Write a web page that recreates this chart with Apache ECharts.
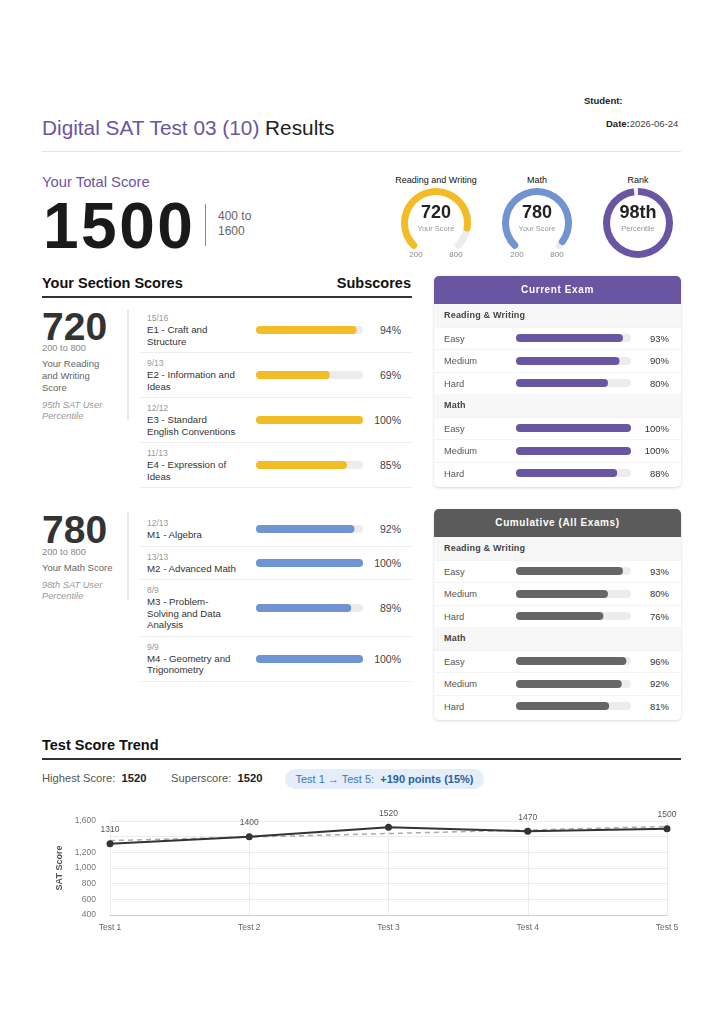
<!DOCTYPE html>
<html>
<head>
<meta charset="utf-8">
<title>Digital SAT Test 03 (10) Results</title>
<script src="https://cdn.jsdelivr.net/npm/echarts@6/dist/echarts.min.js"></script>
<style>
  body { margin: 0; background: #fff; font-family: "Liberation Sans", Arial, sans-serif; color: #222; }
  #page { position: relative; width: 724px; height: 1024px; overflow: hidden; }
  .abs { position: absolute; white-space: nowrap; }
  .purple { color: #6a55a3; }
  .srow { position: relative; padding: 5px 0 5px 7px; border-bottom: 1px solid #eee; }
  .cnt { font-size: 8.5px; line-height: 11px; color: #999; }
  .nm { font-size: 9.7px; line-height: 11.5px; color: #333; white-space: pre; }
  .bar { position: absolute; top: 50%; margin-top: -5px; height: 10px; }
  .srow .bar { left: 116px; width: 107px; }
  .srow .pct { position: absolute; right: 11px; top: 50%; margin-top: -6px; font-size: 10.5px; line-height: 12px; color: #444; }
  .panel { position: absolute; left: 434px; width: 247px; border-radius: 5px; background: #fff;
           box-shadow: 0 1px 3px rgba(0,0,0,0.16); overflow: hidden; padding-bottom: 3px; }
  .phead { height: 28px; line-height: 28px; text-align: center; color: #fff; font-weight: bold; font-size: 10px; letter-spacing: 0.6px; }
  .psec { height: 22.5px; line-height: 22.5px; background: #f7f7f7; padding-left: 10px; font-weight: bold; font-size: 9px; letter-spacing: 0.2px; color: #444; }
  .prow { position: relative; box-sizing: border-box; height: 22.5px; line-height: 22.5px; padding-left: 10px; font-size: 9.3px; color: #555; border-top: 1px solid #f3f3f3; }
  .prow .bar { left: 82px; width: 115px; }
  .prow .pct { position: absolute; right: 12px; top: 0; font-size: 9.5px; color: #333; }
  .gl { position: absolute; width: 24px; text-align: center; font-size: 8px; line-height: 10px; color: #888; }
  .gt { position: absolute; width: 110px; text-align: center; font-size: 9px; line-height: 11px; color: #111; }
</style>
</head>
<body>
<div id="page">
  <!-- header -->
  <div class="abs" style="left:584px;top:95px;font-size:9.5px;line-height:12px;font-weight:bold;">Student:</div>
  <div class="abs" style="left:42px;top:114.5px;font-size:20.8px;line-height:25px;"><span class="purple">Digital SAT Test 03 (10)</span> Results</div>
  <div class="abs" style="left:606px;top:118px;font-size:9.5px;line-height:12px;"><b>Date:</b><span style="color:#444">2026-06-24</span></div>
  <div class="abs" style="left:42px;top:151px;width:639px;height:1px;background:#e2e2e2;"></div>

  <!-- total score -->
  <div class="abs purple" style="left:42px;top:174px;font-size:14.8px;line-height:16px;">Your Total Score</div>
  <div class="abs" style="left:43px;top:194px;font-size:64px;line-height:64px;font-weight:bold;color:#1a1a1a;letter-spacing:2.5px;">1500</div>
  <div class="abs" style="left:205px;top:204px;width:1px;height:42px;background:#888;"></div>
  <div class="abs" style="left:218px;top:208.5px;font-size:12px;line-height:15px;color:#666;">400 to<br>1600</div>

  <!-- gauges -->
  <div class="gt" id="gt0" style="left:381px;top:174.5px;"></div>
  <div class="gt" id="gt1" style="left:482px;top:174.5px;"></div>
  <div class="gt" id="gt2" style="left:583px;top:174.5px;"></div>
  <div id="gauges" class="abs" style="left:380px;top:185px;width:320px;height:80px;"></div>
  <div class="gl" style="left:404px;top:249.5px;">200</div>
  <div class="gl" style="left:444px;top:249.5px;">800</div>
  <div class="gl" style="left:505px;top:249.5px;">200</div>
  <div class="gl" style="left:545px;top:249.5px;">800</div>

  <!-- section scores -->
  <div class="abs" style="left:42px;top:275px;font-size:14.5px;line-height:16px;font-weight:bold;color:#111;">Your Section Scores</div>
  <div class="abs" style="right:313px;top:275px;font-size:14.5px;line-height:16px;font-weight:bold;color:#111;">Subscores</div>
  <div class="abs" style="left:42px;top:296px;width:370px;height:2px;background:#333;"></div>

  <div class="abs" style="left:42px;top:307px;font-size:39px;line-height:40px;font-weight:bold;color:#333;">720</div>
  <div class="abs" style="left:42px;top:342.5px;font-size:9.3px;line-height:11px;color:#888;">200 to 800</div>
  <div class="abs" style="left:42px;top:358px;font-size:9.5px;line-height:12px;color:#666;">Your Reading<br>and Writing<br>Score</div>
  <div class="abs" style="left:42px;top:399.5px;font-size:9.3px;line-height:11px;color:#999;font-style:italic;">95th SAT User<br>Percentile</div>
  <div class="abs" style="left:127px;top:310px;width:2px;height:110px;background:#e8e8e8;"></div>
  <div id="rwRows" class="abs" style="left:140px;top:308px;width:272px;"></div>

  <div class="abs" style="left:42px;top:510px;font-size:39px;line-height:40px;font-weight:bold;color:#333;">780</div>
  <div class="abs" style="left:42px;top:546.5px;font-size:9.3px;line-height:11px;color:#888;">200 to 800</div>
  <div class="abs" style="left:42px;top:562px;font-size:9.5px;line-height:12px;color:#666;">Your Math Score</div>
  <div class="abs" style="left:42px;top:579.5px;font-size:9.3px;line-height:11px;color:#999;font-style:italic;">98th SAT User<br>Percentile</div>
  <div class="abs" style="left:127px;top:512px;width:2px;height:88px;background:#e8e8e8;"></div>
  <div id="mathRows" class="abs" style="left:140px;top:513px;width:272px;"></div>

  <!-- difficulty panels -->
  <div id="currentPanel" class="panel" style="top:276px;"></div>
  <div id="cumPanel" class="panel" style="top:509px;"></div>

  <!-- trend -->
  <div class="abs" style="left:42px;top:737px;font-size:14.5px;line-height:16px;font-weight:bold;color:#111;">Test Score Trend</div>
  <div class="abs" style="left:42px;top:758px;width:639px;height:2px;background:#333;"></div>
  <div class="abs" style="left:42px;top:771px;font-size:11.2px;line-height:14px;color:#555;">Highest Score:&nbsp; <b style="color:#222">1520</b></div>
  <div class="abs" style="left:171px;top:771px;font-size:11.2px;line-height:14px;color:#555;">Superscore:&nbsp; <b style="color:#222">1520</b></div>
  <div class="abs" style="left:285px;top:769px;width:199px;height:20px;border-radius:10px;background:#e3eef9;text-align:center;font-size:11px;line-height:20px;color:#3b78b8;">Test 1 &rarr; Test 5:&nbsp; <b style="color:#2861a4">+190 points (15%)</b></div>
  <div id="trend" class="abs" style="left:0;top:800px;width:724px;height:140px;"></div>
</div>
<script>
// subscores
const rwSubNames = ['E1 - Craft and\nStructure', 'E2 - Information and\nIdeas', 'E3 - Standard\nEnglish Conventions', 'E4 - Expression of\nIdeas'];
const rwSubCounts = ['15/16', '9/13', '12/12', '11/13'];
const rwSubPct = [94, 69, 100, 85];
const mathSubNames = ['M1 - Algebra', 'M2 - Advanced Math', 'M3 - Problem-\nSolving and Data\nAnalysis', 'M4 - Geometry and\nTrigonometry'];
const mathSubCounts = ['12/13', '13/13', '8/9', '9/9'];
const mathSubPct = [92, 100, 89, 100];

// difficulty breakdown
const levels = ['Easy', 'Medium', 'Hard'];
const currentRW = [93, 90, 80];
const currentMath = [100, 100, 88];
const cumulativeRW = [93, 80, 76];
const cumulativeMath = [96, 92, 81];

// gauges
const gaugeTitles = ['Reading and Writing', 'Math', 'Rank'];
const rwScore = 720;
const mathScore = 780;
const rankPercentile = 98;

// trend
const tests = ['Test 1', 'Test 2', 'Test 3', 'Test 4', 'Test 5'];
const testScores = [1310, 1400, 1520, 1470, 1500];
const trendScores = [1350, 1395, 1440, 1485, 1530];
const yTickLabels = ['400', '600', '800', '1,000', '1,200', '', '1,600'];

const YELLOW = '#f2bd24';
const BLUE = '#7093d2';
const PURPLE = '#6a55a3';
const GREY = '#666666';

function barChart(el, value, color) {
  const chart = echarts.init(el);
  chart.setOption({
    animation: false,
    grid: { left: 0, right: 0, top: 0, bottom: 0 },
    xAxis: { type: 'value', min: 0, max: 100, show: false },
    yAxis: { type: 'category', data: [''], show: false },
    series: [{
      type: 'bar',
      data: [value],
      barWidth: 8,
      itemStyle: { color: color, borderRadius: 4 },
      showBackground: true,
      backgroundStyle: { color: '#ececec', borderRadius: 4 }
    }]
  });
}

function subRows(boxId, names, counts, pct, color) {
  const box = document.getElementById(boxId);
  for (let i = 0; i < names.length; i++) {
    const row = document.createElement('div');
    row.className = 'srow';
    row.innerHTML = '<div class="cnt">' + counts[i] + '</div><div class="nm">' + names[i] +
      '</div><div class="bar"></div><div class="pct">' + pct[i] + '%</div>';
    box.appendChild(row);
    barChart(row.querySelector('.bar'), pct[i], color);
  }
}

function panel(id, title, headColor, rw, math, color) {
  const box = document.getElementById(id);
  let html = '<div class="phead" style="background:' + headColor + '">' + title + '</div>';
  const groups = [['Reading &amp; Writing', rw], ['Math', math]];
  groups.forEach(g => {
    html += '<div class="psec">' + g[0] + '</div>';
    for (let i = 0; i < levels.length; i++) {
      html += '<div class="prow">' + levels[i] + '<div class="bar"></div><div class="pct">' + g[1][i] + '%</div></div>';
    }
  });
  box.innerHTML = html;
  const bars = box.querySelectorAll('.bar');
  const vals = rw.concat(math);
  bars.forEach((b, i) => barChart(b, vals[i], color));
}

subRows('rwRows', rwSubNames, rwSubCounts, rwSubPct, YELLOW);
subRows('mathRows', mathSubNames, mathSubCounts, mathSubPct, BLUE);
panel('currentPanel', 'Current Exam', PURPLE, currentRW, currentMath, PURPLE);
panel('cumPanel', 'Cumulative (All Exams)', '#5b5b5b', cumulativeRW, cumulativeMath, GREY);

gaugeTitles.forEach((t, i) => { document.getElementById('gt' + i).textContent = t; });

function gauge(center, value, name, color, opts) {
  return Object.assign({
    type: 'gauge',
    center: center,
    radius: 35,
    startAngle: 225,
    endAngle: -45,
    min: 200,
    max: 800,
    splitNumber: 1,
    progress: { show: true, width: 7, roundCap: true, itemStyle: { color: color } },
    axisLine: { roundCap: true, lineStyle: { width: 7, color: [[1, '#ececec']] } },
    axisTick: { show: false },
    splitLine: { show: false },
    axisLabel: { show: false },
    pointer: { show: false },
    anchor: { show: false },
    title: { offsetCenter: [0, 6], fontSize: 7.5, color: '#999' },
    detail: { offsetCenter: [0, -10], fontSize: 18, fontWeight: 'bold', color: '#222',
              fontFamily: 'Liberation Sans', formatter: '{value}' },
    data: [{ value: value, name: name }]
  }, opts || {});
}

const gaugeChart = echarts.init(document.getElementById('gauges'));
gaugeChart.setOption({
  animation: false,
  textStyle: { fontFamily: 'Liberation Sans' },
  series: [
    gauge([56, 38], rwScore, 'Your Score', YELLOW),
    gauge([157, 38], mathScore, 'Your Score', BLUE),
    gauge([258, 38], rankPercentile, 'Percentile', PURPLE, {
      startAngle: 90, endAngle: -270, min: 0, max: 100,
      progress: { show: true, width: 7, itemStyle: { color: PURPLE } },
      axisLine: { lineStyle: { width: 7, color: [[1, '#f4f4f4']] } },
      detail: { offsetCenter: [0, -10], fontSize: 18, fontWeight: 'bold', color: '#222',
                fontFamily: 'Liberation Sans', formatter: '{value}th' }
    })
  ]
});

const trendChart = echarts.init(document.getElementById('trend'));
trendChart.setOption({
  animation: false,
  textStyle: { fontFamily: 'Liberation Sans' },
  grid: { left: 110, right: 57, top: 21, bottom: 25 },
  xAxis: {
    type: 'category',
    data: tests,
    boundaryGap: false,
    axisLine: { lineStyle: { color: '#cccccc' } },
    axisTick: { show: false },
    axisLabel: { fontSize: 8.5, color: '#666', margin: 8 },
    splitLine: { show: true, lineStyle: { color: '#ebebeb' } }
  },
  yAxis: {
    type: 'value',
    min: 400,
    max: 1600,
    interval: 200,
    name: 'SAT Score',
    nameLocation: 'middle',
    nameGap: 44,
    nameTextStyle: { fontSize: 9, fontWeight: 'bold', color: '#555' },
    axisLine: { show: false },
    axisTick: { show: false },
    axisLabel: { fontSize: 8.5, color: '#777', margin: 14, formatter: (v, i) => yTickLabels[i] },
    splitLine: { lineStyle: { color: '#ebebeb' } }
  },
  series: [
    {
      name: 'Trend',
      type: 'line',
      data: trendScores,
      symbol: 'none',
      lineStyle: { color: '#aaaaaa', width: 1.5, type: [5, 4] },
      z: 2
    },
    {
      name: 'Score',
      type: 'line',
      data: testScores,
      symbol: 'circle',
      symbolSize: 7,
      lineStyle: { color: '#333', width: 2 },
      itemStyle: { color: '#333' },
      label: { show: true, position: 'top', distance: 6, fontSize: 8.5, color: '#555' },
      z: 3
    }
  ]
});
</script>
</body>
</html>
